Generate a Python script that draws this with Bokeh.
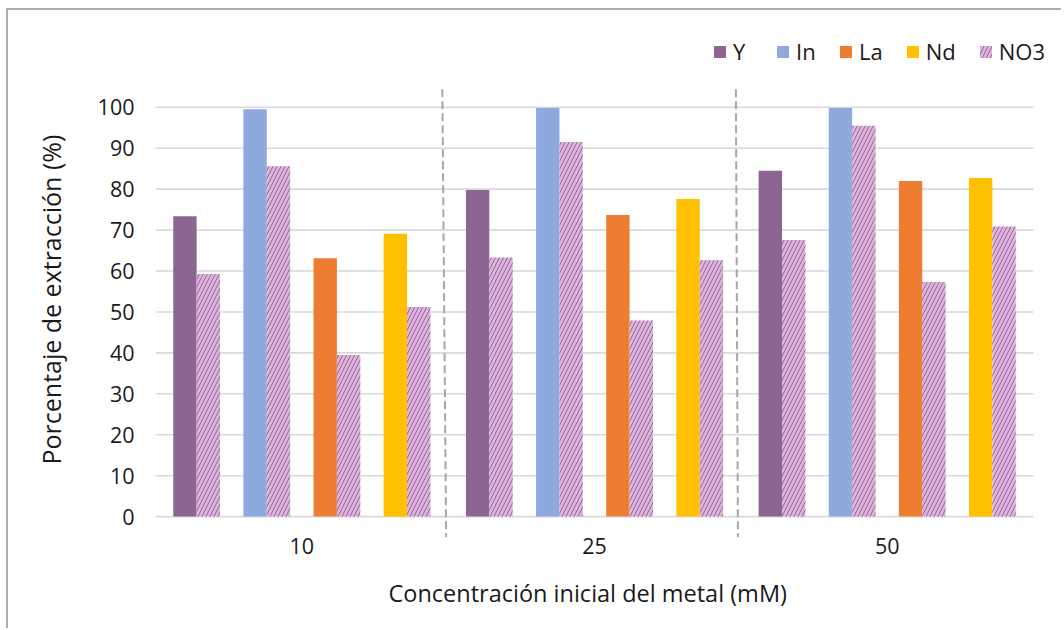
from bokeh.plotting import figure
from bokeh.models import Range1d, FixedTicker, Legend, LegendItem, Title
from bokeh.embed import file_html
from bokeh.resources import INLINE

# Initial metal concentration (mM) groups
categories = ["10", "25", "50"]

# Extraction percentage per metal
y_vals = [73.4, 79.8, 84.5]
in_vals = [99.5, 99.8, 99.8]
la_vals = [63.1, 73.7, 82.0]
nd_vals = [69.1, 77.6, 82.7]

# Nitrate extraction measured alongside each metal
no3_y = [59.3, 63.3, 67.6]
no3_in = [85.6, 91.5, 95.5]
no3_la = [39.5, 47.9, 57.3]
no3_nd = [51.2, 62.6, 70.9]

y_ticks = [0, 10, 20, 30, 40, 50, 60, 70, 80, 90, 100]

FONT = "Open Sans"
TEXT = "#1a1a1a"
NO3_FILL = "#DEB4DC"
NO3_HATCH = "#946898"

# Bar slots inside each group: metal, NO3, gap, metal, NO3, gap, ...
EDGE = 0.76
SLOT = 1.0 / (11 + 2 * EDGE)
N = len(categories)
Y_MIN = -5.1


def slot_x(slot):
    return [g + (EDGE + slot + 0.5) * SLOT for g in range(N)]


# the plotting frame reaches a little past the last group so the legend fits
p = figure(
    width=1055, height=620,
    x_range=Range1d(0, N + 0.0853), y_range=Range1d(Y_MIN, 121.2),
    output_backend="svg", toolbar_location=None,
    min_border_left=146, min_border_right=5,
    min_border_top=10, min_border_bottom=92,
)
p.styles = {
    "margin-left": "6px", "margin-top": "8px",
    "border-left": "2px solid #ADADAD", "border-top": "2px solid #ADADAD",
}
p.outline_line_color = None
p.background_fill_color = "white"
p.border_fill_color = "white"

# horizontal gridlines spanning the category groups only
p.xgrid.visible = False
p.ygrid.visible = False
p.segment(x0=[0] * len(y_ticks), y0=y_ticks, x1=[N] * len(y_ticks), y1=y_ticks,
          line_color="#D9D9D9", line_width=1.6)

# y axis
p.yaxis.ticker = FixedTicker(ticks=y_ticks)
p.yaxis.axis_line_color = None
p.yaxis.major_tick_line_color = None
p.yaxis.major_tick_out = 0
p.yaxis.minor_tick_line_color = None
p.yaxis.minor_tick_out = 0
p.yaxis.major_label_standoff = 21
p.yaxis.major_label_text_font = FONT
p.yaxis.major_label_text_font_size = "21.5px"
p.yaxis.major_label_text_color = TEXT

# x axis
p.xaxis.ticker = FixedTicker(ticks=[0.5, 1.5, 2.5])
p.xaxis.major_label_overrides = {0.5: categories[0], 1.5: categories[1], 2.5: categories[2]}
p.xaxis.axis_line_color = None
p.xaxis.major_tick_line_color = None
p.xaxis.major_tick_out = 0
p.xaxis.minor_tick_line_color = None
p.xaxis.minor_tick_out = 0
p.xaxis.major_label_standoff = 0
p.xaxis.major_label_text_font = FONT
p.xaxis.major_label_text_font_size = "21.5px"
p.xaxis.major_label_text_color = TEXT

# axis titles
y_title = Title(
    text="Porcentaje de extracción (%)", align="left", vertical_align="top",
    offset=73, standoff=50, text_font=FONT, text_font_size="25px",
    text_font_style="normal", text_color=TEXT,
)
p.add_layout(y_title, "left")
x_title = Title(
    text="Concentración inicial del metal (mM)", align="left", vertical_align="top",
    offset=233, standoff=40, text_font=FONT, text_font_size="23.5px",
    text_font_style="normal", text_color=TEXT,
)
p.add_layout(x_title, "below")

# dashed group separators
sep_top = [0.980, 1.983]
sep_bottom = [0.993, 1.990]
p.segment(x0=sep_top, y0=[104.4, 104.4], x1=sep_bottom, y1=[Y_MIN, Y_MIN],
          line_color="#A6A6A6", line_width=2, line_dash="8 4")

metals = [
    ("Y", y_vals, no3_y, "#8C6593"),
    ("In", in_vals, no3_in, "#8EA9DB"),
    ("La", la_vals, no3_la, "#ED7D31"),
    ("Nd", nd_vals, no3_nd, "#FFC000"),
]

items = []
no3_renderer = None
for i, (name, vals, no3_vals, color) in enumerate(metals):
    r = p.vbar(x=slot_x(3 * i), top=vals, bottom=0, width=SLOT,
               fill_color=color, line_color=None)
    items.append(LegendItem(label=name, renderers=[r]))
    rn = p.vbar(x=slot_x(3 * i + 1), top=no3_vals, bottom=0, width=SLOT,
                fill_color=NO3_FILL, line_color=None,
                hatch_pattern="/", hatch_color=NO3_HATCH,
                hatch_scale=8, hatch_weight=1.0)
    if no3_renderer is None:
        no3_renderer = rn
items.append(LegendItem(label="NO3", renderers=[no3_renderer]))

legend = Legend(
    items=items, orientation="horizontal", location=(557, 471),
    glyph_width=15, glyph_height=15, label_standoff=6, spacing=22,
    padding=0, margin=0, border_line_color=None, background_fill_alpha=0,
    label_text_font=FONT, label_text_font_size="22px", label_text_color=TEXT,
)
p.add_layout(legend, "center")

open("out.html", "w").write(file_html(p, INLINE))
